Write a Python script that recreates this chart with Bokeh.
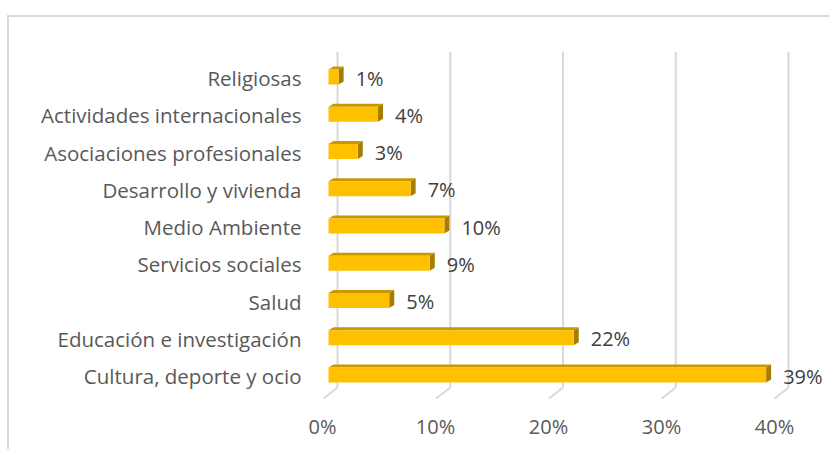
from bokeh.plotting import figure
from bokeh.models import Range1d, LinearAxis, FixedTicker, ColumnDataSource
from bokeh.core.properties import value
from bokeh.embed import file_html
from bokeh.resources import INLINE

# ---------------- data ----------------
categories = ["Cultura, deporte y ocio", "Educación e investigación", "Salud",
              "Servicios sociales", "Medio Ambiente", "Desarrollo y vivienda",
              "Asociaciones profesionales", "Actividades internacionales", "Religiosas"]
values = [38.9, 21.8, 5.4, 9.0, 10.3, 7.3, 2.6, 4.4, 0.9]
x_ticks = [0, 10, 20, 30, 40]
x_tick_labels = ["0%", "10%", "20%", "30%", "40%"]

# ---------------- layout constants (page pixels) ----------------
OX, OY = 9, 17                               # expected page position of canvas origin
W, H = 822, 434
FL, FR, FT, FB = 320, 825, 51, 400          # frame edges on page
BAR0, BARK = 328, 11.25                      # bar plane: x of 0%, px per %
FRONT0, FRONTK = 322, 11.3                   # front floor (axis labels)
BACK0, BACKK = 337, 11.275                   # back wall (grid lines)
BARY0, ROWK = 374.5, 37.25                   # bar centre of first row, px per row
AXY0 = 375.5                                 # category label anchor of first row
BAR_H = 15                                   # px
DX, DY = 5, 3                                # 3D depth px
FONT = "Open Sans"
FS = "20px"
FS_CAT = "20.5px"

def xr(zero, k):
    return Range1d((FL - zero) / k, (FR - zero) / k)

def yr(zero):
    return Range1d((zero - FB) / ROWK, (zero - FT) / ROWK)

p = figure(width=W, height=H, output_backend="svg", toolbar_location=None,
           x_axis_location=None, y_axis_location=None,
           x_range=xr(BAR0, BARK), y_range=yr(BARY0),
           min_border_left=FL - OX, min_border_right=W - (FR - OX),
           min_border_top=FT - OY, min_border_bottom=H - (FB - OY),
           margin=(15, 0, 0, 7),
           styles={"border-left": "2px solid #D9D9D9", "border-top": "2px solid #D9D9D9"})
p.outline_line_color = None
p.background_fill_color = "white"
p.border_fill_color = "white"
p.xgrid.visible = False
p.ygrid.visible = False
p.extra_x_ranges = {"front": xr(FRONT0, FRONTK), "back": xr(BACK0, BACKK)}
p.extra_y_ranges = {"axy": yr(AXY0)}

# ---------------- grid lines (back wall + floor diagonal) ----------------
def ydata(page_y):
    return (BARY0 - page_y) / ROWK

grid_bottom = ydata(387)
grid_top = ydata(FT)
floor_front = ydata(398)
p.segment(x0=x_ticks, y0=[grid_bottom] * len(x_ticks), x1=x_ticks, y1=[grid_top] * len(x_ticks),
          x_range_name="back", line_color="#D9D9D9", line_width=2)
p.segment(x0=x_ticks, y0=[grid_bottom] * len(x_ticks),
          x1=[t - 14 / BACKK for t in x_ticks], y1=[floor_front] * len(x_ticks),
          x_range_name="back", line_color="#D9D9D9", line_width=2)

# ---------------- 3D bars ----------------
rows = list(range(len(categories)))
hh = BAR_H / ROWK / 2
dx = DX / BARK
dy = DY / ROWK
top_xs, top_ys, side_xs, side_ys = [], [], [], []
for r, v in zip(rows, values):
    top_xs.append([0, v, v + dx, dx])
    top_ys.append([r + hh, r + hh, r + hh + dy, r + hh + dy])
    side_xs.append([v, v + dx, v + dx, v])
    side_ys.append([r - hh, r - hh + dy, r + hh + dy, r + hh])

p.patches(top_xs, top_ys, fill_color="#C99700", line_color=None)
p.patches(side_xs, side_ys, fill_color="#A67D00", line_color=None)
src = ColumnDataSource(dict(y=rows, right=values,
                            label=[f"{round(v):d}%" for v in values]))
p.hbar(y="y", left=0, right="right", height=2 * hh, source=src,
       fill_color="#FFC000", line_color=None)

# data labels
p.text(x="right", y="y", text="label", source=src, x_offset=17, y_offset=1,
       text_font=value(FONT), text_font_size=FS, text_color="#404040",
       text_align="left", text_baseline="middle")

# ---------------- axes ----------------
xaxis = LinearAxis(x_range_name="front", ticker=FixedTicker(ticks=x_ticks),
                   major_label_overrides={t: l for t, l in zip(x_ticks, x_tick_labels)})
yaxis = LinearAxis(y_range_name="axy", ticker=FixedTicker(ticks=rows),
                   major_label_overrides={r: c for r, c in zip(rows, categories)})
for ax in (xaxis, yaxis):
    ax.axis_line_color = None
    ax.major_tick_line_color = None
    ax.minor_tick_line_color = None
    ax.major_label_text_font = FONT
    ax.major_label_text_color = "#595959"
xaxis.major_label_text_font_size = FS
yaxis.major_label_text_font_size = FS_CAT
xaxis.major_label_standoff = 6
yaxis.major_label_standoff = 13
p.add_layout(xaxis, "below")
p.add_layout(yaxis, "left")

open("out.html", "w").write(file_html(p, INLINE))
